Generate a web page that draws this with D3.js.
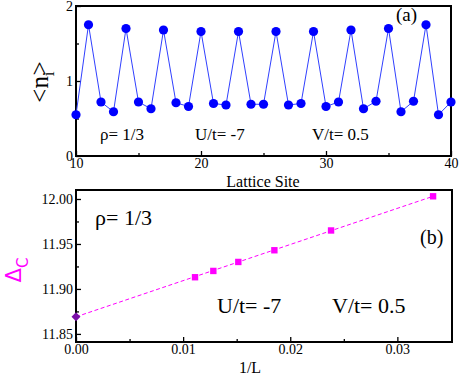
<!DOCTYPE html>
<html>
<head>
<meta charset="utf-8">
<script src="https://cdn.jsdelivr.net/npm/d3@7.9.0/dist/d3.min.js"></script>
<style>
  body { margin: 0; background: #fff; }
  .tick text { fill: #000; }
  .tick line { stroke: #000; stroke-width: 1.3; }
</style>
</head>
<body>
<div id="chart"></div>
<script>
// panel (a): density per lattice site
const sites = d3.range(10, 41);
const density = [0.55, 1.75, 0.72, 0.59, 1.70, 0.72, 0.63, 1.68, 0.71, 0.66,
  1.66, 0.70, 0.68, 1.66, 0.69, 0.69, 1.66, 0.68, 0.70, 1.66,
  0.66, 0.72, 1.68, 0.63, 0.73, 1.70, 0.59, 0.73, 1.75, 0.55, 0.72];

// panel (b): charge gap vs 1/L
const invL = [1 / 90, 1 / 78, 1 / 66, 1 / 54, 1 / 42, 1 / 30];
const gap = [11.913, 11.920, 11.930, 11.943, 11.965, 12.003];
const extrapX = [0];
const extrapY = [11.869];
const fitX = [0, 1 / 30];
const fitY = [11.869, 12.003];

const aTicks = [10, 20, 30, 40];
const aMinor = [15, 25, 35];
const aYTicks = [0, 1, 2];
const aYMinor = [0.5, 1.5];
const bTicks = [0, 0.01, 0.02, 0.03];
const bMinor = [0.005, 0.015, 0.025];
const bYTicks = [11.85, 11.90, 11.95, 12.00];
const bYMinor = [11.875, 11.925, 11.975];

const serif = 'Liberation Serif';
const width = 460, height = 376;
const svg = d3.select('#chart').append('svg')
  .attr('width', width).attr('height', height)
  .style('display', 'block');

// ---- panel (a)
const xA = d3.scaleLinear().domain([10, 40]).range([76, 451]);
const yA = d3.scaleLinear().domain([0, 2]).range([156, 6]);

function axes(g, x, y, xt, xm, yt, ym, xfmt, yfmt) {
  const [y0] = y.range();
  const [x0] = x.range();
  const clean = s => {
    s.select('.domain').remove();
    s.attr('font-family', serif).attr('font-size', 14);
  };
  g.append('g').attr('transform', `translate(0,${y0})`)
    .call(d3.axisBottom(x).tickValues(xt).tickSize(-5).tickPadding(2).tickFormat(xfmt))
    .call(clean);
  g.append('g').attr('transform', `translate(0,${y0})`)
    .call(d3.axisBottom(x).tickValues(xm).tickSize(-3).tickFormat(''))
    .call(clean);
  g.append('g').attr('transform', `translate(${x0},0)`)
    .call(d3.axisLeft(y).tickValues(yt).tickSize(-5).tickPadding(3).tickFormat(yfmt))
    .call(clean);
  g.append('g').attr('transform', `translate(${x0},0)`)
    .call(d3.axisLeft(y).tickValues(ym).tickSize(-3).tickFormat(''))
    .call(clean);
  g.append('rect')
    .attr('x', x.range()[0]).attr('y', y.range()[1])
    .attr('width', x.range()[1] - x.range()[0])
    .attr('height', y.range()[0] - y.range()[1])
    .attr('fill', 'none').attr('stroke', '#000').attr('stroke-width', 2);
}

const gA = svg.append('g');
axes(gA, xA, yA, aTicks, aMinor, aYTicks, aYMinor, d3.format('d'), d3.format('d'));

gA.append('path')
  .datum(sites.map((s, i) => [s, density[i]]))
  .attr('fill', 'none').attr('stroke', '#3040ff').attr('stroke-width', 1)
  .attr('d', d3.line().x(d => xA(d[0])).y(d => yA(d[1])));
gA.selectAll('circle')
  .data(sites.map((s, i) => [s, density[i]]))
  .join('circle')
  .attr('cx', d => xA(d[0])).attr('cy', d => yA(d[1]))
  .attr('r', 4.6).attr('fill', '#0000ff');

const txtA = [['ρ= 1/3', 100], ['U/t= -7', 195], ['V/t= 0.5', 312]];
gA.selectAll('text.lab').data(txtA).join('text')
  .attr('class', 'lab').attr('x', d => d[1]).attr('y', 140)
  .attr('font-family', serif).attr('font-size', 17).text(d => d[0]);
gA.append('text').attr('x', 396).attr('y', 21)
  .attr('font-family', serif).attr('font-size', 19).text('(a)');
gA.append('text').attr('x', 263).attr('y', 187).attr('text-anchor', 'middle')
  .attr('font-family', serif).attr('font-size', 16).text('Lattice Site');

const ylabA = gA.append('text')
  .attr('transform', 'translate(48,82) rotate(-90)')
  .attr('text-anchor', 'middle').attr('font-family', serif).attr('font-size', 25);
ylabA.append('tspan').text('<n');
ylabA.append('tspan').attr('font-size', 17).attr('dy', 6).text('i');
ylabA.append('tspan').attr('dy', -6).attr('dx', -4).text('>');

// ---- panel (b)
const xB = d3.scaleLinear().domain([0, 0.0351]).range([76, 452]);
const yB = d3.scaleLinear().domain([11.841, 12.010]).range([342, 190]);

const gB = svg.append('g');
axes(gB, xB, yB, bTicks, bMinor, bYTicks, bYMinor, d3.format('.2f'), d3.format('.2f'));

gB.append('path')
  .datum(fitX.map((v, i) => [v, fitY[i]]))
  .attr('fill', 'none').attr('stroke', '#ff00ff').attr('stroke-width', 1)
  .attr('stroke-dasharray', '4,2.5')
  .attr('d', d3.line().x(d => xB(d[0])).y(d => yB(d[1])));
gB.selectAll('rect.pt')
  .data(invL.map((v, i) => [v, gap[i]]))
  .join('rect').attr('class', 'pt')
  .attr('x', d => xB(d[0]) - 3.2).attr('y', d => yB(d[1]) - 3.2)
  .attr('width', 6.4).attr('height', 6.4).attr('fill', '#ff00ff');
gB.selectAll('path.dia')
  .data(extrapX.map((v, i) => [v, extrapY[i]]))
  .join('path').attr('class', 'dia')
  .attr('transform', d => `translate(${xB(d[0])},${yB(d[1])})`)
  .attr('d', 'M0,-4.5L4.5,0L0,4.5L-4.5,0Z').attr('fill', '#7a10a8');

const txtB = [['ρ= 1/3', 95, 225, 22], ['U/t= -7', 217, 313, 22],
  ['V/t= 0.5', 332, 313, 22], ['(b)', 420, 244, 20]];
gB.selectAll('text.lab').data(txtB).join('text')
  .attr('class', 'lab').attr('x', d => d[1]).attr('y', d => d[2])
  .attr('font-family', serif).attr('font-size', d => d[3]).text(d => d[0]);
gB.append('text').attr('x', 250).attr('y', 373).attr('text-anchor', 'middle')
  .attr('font-family', serif).attr('font-size', 16).text('1/L');

const ylabB = gB.append('text')
  .attr('transform', 'translate(21,270) rotate(-90)')
  .attr('text-anchor', 'middle').attr('fill', '#ff00ff')
  .attr('font-family', 'DejaVu Sans').attr('font-size', 21);
ylabB.append('tspan').text('Δ');
ylabB.append('tspan').attr('font-size', 15).attr('dy', 7).text('C');
</script>
</body>
</html>
